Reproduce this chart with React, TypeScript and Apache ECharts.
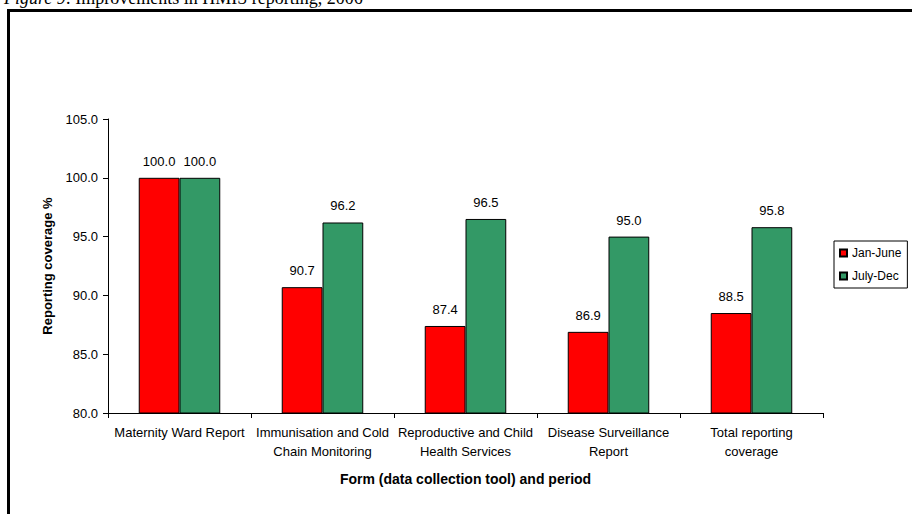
import React, { useEffect, useRef } from "react";
import * as echarts from "echarts";

const categories = [
  "Maternity Ward Report",
  "Immunisation and Cold\nChain Monitoring",
  "Reproductive and Child\nHealth Services",
  "Disease Surveillance\nReport",
  "Total reporting\ncoverage",
];
const janJune = [100.0, 90.7, 87.4, 86.9, 88.5];
const julyDec = [100.0, 96.2, 96.5, 95.0, 95.8];
const seriesNames = ["Jan-June", "July-Dec"];

const FONT = "Liberation Sans, Arial, sans-serif";

export default function App() {
  const ref = useRef<HTMLDivElement>(null);
  useEffect(() => {
    if (!ref.current) return;
    const chart = echarts.init(ref.current, null, { renderer: "svg" });
    const dataLabel = {
      show: true,
      position: "top",
      distance: 10,
      fontFamily: FONT,
      fontSize: 13,
      color: "#000",
      formatter: (p: any) => Number(p.value).toFixed(1),
    };
    chart.setOption({
      animation: false,
      backgroundColor: "#ffffff",
      textStyle: { fontFamily: FONT },
      graphic: [
        {
          type: "rect",
          shape: { x: 8.5, y: 10.5, width: 1000, height: 700 },
          style: { fill: "none", stroke: "#000", lineWidth: 3 },
          silent: true,
        },
        {
          type: "text",
          x: 4,
          y: 7,
          style: {
            text: "{i|Figure 9}: Improvements in HMIS reporting, 2006",
            fontFamily: "Liberation Serif, serif",
            fontSize: 18,
            fill: "#000",
            textVerticalAlign: "bottom",
            rich: {
              i: {
                fontStyle: "italic",
                fontFamily: "Liberation Serif, serif",
                fontSize: 18,
              },
            },
          },
        },
      ],
      grid: { left: 108, top: 119, right: 89, bottom: 101, containLabel: false },
      legend: {
        orient: "vertical",
        left: 834,
        top: 241,
        padding: [6, 6, 6, 5],
        itemGap: 11,
        itemWidth: 7,
        itemHeight: 7,
        icon: "rect",
        borderColor: "#000",
        borderWidth: 1,
        data: seriesNames,
        textStyle: { fontFamily: FONT, fontSize: 12, color: "#000" },
      },
      xAxis: {
        type: "category",
        data: categories,
        name: "Form (data collection tool) and period",
        nameLocation: "middle",
        nameGap: 59,
        nameTextStyle: { fontFamily: FONT, fontSize: 14, fontWeight: "bold", color: "#000" },
        axisLine: { lineStyle: { color: "#000", width: 1 } },
        axisTick: { show: true, length: 5, lineStyle: { color: "#000" } },
        axisLabel: {
          interval: 0,
          margin: 10,
          fontFamily: FONT,
          fontSize: 13,
          lineHeight: 19,
          color: "#000",
        },
      },
      yAxis: {
        type: "value",
        min: 80,
        max: 105,
        interval: 5,
        name: "Reporting coverage %",
        nameLocation: "middle",
        nameGap: 54,
        nameTextStyle: { fontFamily: FONT, fontSize: 13, fontWeight: "bold", color: "#000" },
        axisLine: { show: true, lineStyle: { color: "#000", width: 1 } },
        axisTick: { show: true, length: 5, lineStyle: { color: "#000" } },
        splitLine: { show: false },
        axisLabel: {
          margin: 10,
          fontFamily: FONT,
          fontSize: 13,
          color: "#000",
          formatter: (v: number) => v.toFixed(1),
        },
      },
      series: [
        {
          name: seriesNames[0],
          type: "bar",
          data: janJune,
          barGap: "0%",
          barCategoryGap: "43%",
          itemStyle: { color: "#FF0000", borderColor: "#000", borderWidth: 1 },
          label: dataLabel,
        },
        {
          name: seriesNames[1],
          type: "bar",
          data: julyDec,
          barGap: "0%",
          barCategoryGap: "43%",
          itemStyle: { color: "#339966", borderColor: "#000", borderWidth: 1 },
          label: dataLabel,
        },
      ],
    });
    return () => chart.dispose();
  }, []);
  return <div ref={ref} style={{ width: 912, height: 514, position: "absolute", left: 0, top: 0 }} />;
}
